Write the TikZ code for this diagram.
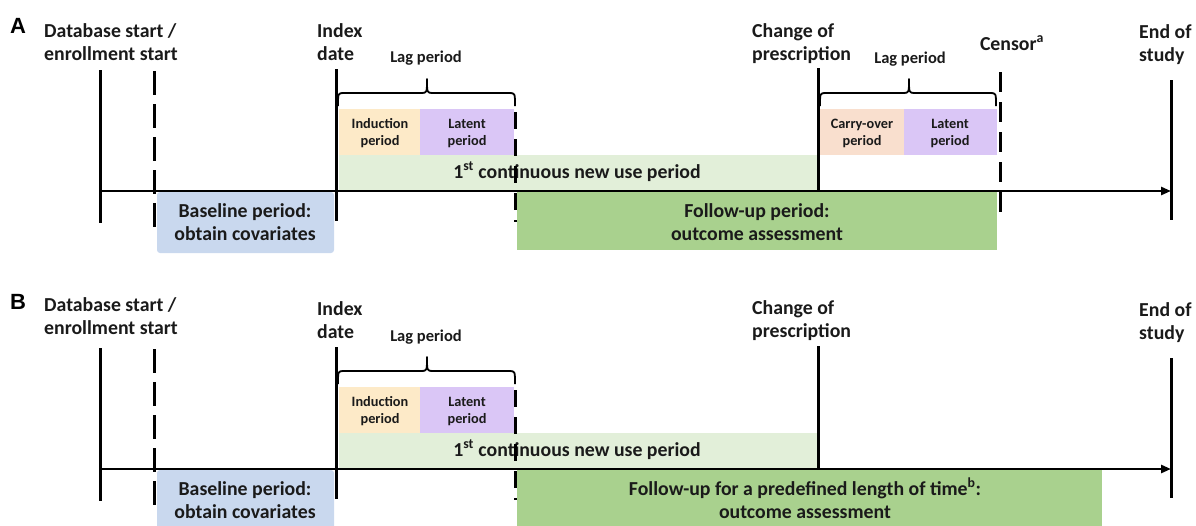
\documentclass[tikz,border=0pt]{standalone}
\usepackage{fontspec}
\setmainfont{Carlito}
\newfontfamily\panelfont{Liberation Sans}
\usetikzlibrary{arrows.meta}
\definecolor{txt}{HTML}{1A1A1A}
\definecolor{baseblue}{HTML}{C9D8EE}
\definecolor{fugreen}{HTML}{A9D18E}
\definecolor{usegreen}{HTML}{E2EFD9}
\definecolor{induc}{HTML}{FDEAC8}
\definecolor{carry}{HTML}{F9DFCE}
\definecolor{latentc}{HTML}{DAC6F6}
\newcommand\twolinel[2]{\begin{tabular}[t]{@{}l@{}}#1\\#2\end{tabular}}
\newcommand\twolinec[2]{\begin{tabular}[t]{@{}c@{}}#1\\#2\end{tabular}}
\newcommand\lagbrace[4]{%
  \draw[bracestyle] (#1,#4+13) .. controls (#1,#4) .. (#1+6,#4) -- (#2-6,#4)
    .. controls (#2,#4) .. (#2,#4-14) .. controls (#2,#4) .. (#2+6,#4) -- (#3-6,#4)
    .. controls (#3,#4) .. (#3,#4+13);}
\tikzset{
  big/.style={font=\fontsize{19.8}{23.5}\selectfont\bfseries, text=txt, inner sep=0pt},
  mid/.style={font=\fontsize{16.5}{18}\selectfont\bfseries, text=txt, inner sep=0pt},
  small/.style={font=\fontsize{14.3}{17}\selectfont\bfseries, text=txt, inner sep=0pt},
  panel/.style={font=\panelfont\bfseries\fontsize{22}{24}\selectfont, text=black, inner sep=0pt},
  tick/.style={line width=3pt, draw=black},
  dtick/.style={line width=3pt, draw=black, dash pattern=on 24pt off 9pt},
  axis/.style={line width=2.5pt, draw=black, -{Triangle[length=10pt,width=8pt]}},
  bracestyle/.style={line width=1.8pt, draw=black, line join=round},
}
\begin{document}
\begin{tikzpicture}[x=1pt,y=-1pt]
\useasboundingbox (0,0) rectangle (1196,525);
\clip (0,0) rectangle (1196,525);
% ================= Panel A =================
\fill[baseblue, rounded corners=3pt] (157,192) rectangle (334,253);
\fill[fugreen] (517,192) rectangle (997,250);
\fill[usegreen] (339,155) rectangle (818,190);
\fill[induc] (339,109) rectangle (420,155);
\fill[latentc] (420,109) rectangle (514,155);
\fill[carry] (820,109) rectangle (904,155);
\fill[latentc] (904,109) rectangle (997,155);

\node[panel, anchor=base west] (pA) at (10,33) {A};
\node[big, anchor=base west] (dbA) at (44,37) {\twolinel{Database start /}{enrollment start}};
\node[big, anchor=base west] (idxA) at (317,37) {\twolinel{Index}{date}};
\node[big, anchor=base west] (chgA) at (752,37) {\twolinel{Change of}{prescription}};
\node[big, anchor=base west] (endA) at (1139,38) {\twolinel{End of}{study}};
\node[big, anchor=base] (cenA) at (1012,50) {Censor\textsuperscript{a}};
\node[mid, anchor=base] (lag1A) at (426,62) {Lag period};
\node[mid, anchor=base] (lag2A) at (910,63) {Lag period};
\node[small, anchor=base] (indA) at (380,128) {\twolinec{Induction}{period}};
\node[small, anchor=base] (lat1A) at (467,128) {\twolinec{Latent}{period}};
\node[small, anchor=base] (carA) at (862,128) {\twolinec{Carry-over}{period}};
\node[small, anchor=base] (lat2A) at (950,128) {\twolinec{Latent}{period}};
\node[big, anchor=base] (useA) at (577,178) {1\textsuperscript{st} continuous new use period};
\node[big, anchor=base] (baseA) at (245,217) {\twolinec{Baseline period:}{obtain covariates}};
\node[big, anchor=base] (fuA) at (757,217) {\twolinec{Follow-up period:}{outcome assessment}};

\lagbrace{338}{427}{515}{93}
\lagbrace{820}{909}{996}{93}
\draw[axis] (100,191) -- (1171,191);
\draw[tick] (100,70) -- (100,223);
\draw[dtick] (154,71) -- (154,230);
\draw[tick] (336,69) -- (336,221);
\draw[dtick, dash pattern=on 17pt off 10pt] (515,112) -- (515,222);
\draw[tick] (818,68) -- (818,191);
\draw[dtick, dash pattern=on 20pt off 10pt] (1000,72) -- (1000,222);
\draw[tick] (1171,80) -- (1171,220);

% ================= Panel B =================
\fill[baseblue, rounded corners=3pt] (157,470) rectangle (334,531);
\fill[fugreen] (517,470) rectangle (1102,528);
\fill[usegreen] (339,433) rectangle (818,468);
\fill[induc] (339,387) rectangle (420,433);
\fill[latentc] (420,387) rectangle (514,433);

\node[panel, anchor=base west] (pB) at (10,309) {B};
\node[big, anchor=base west] (dbB) at (44,311) {\twolinel{Database start /}{enrollment start}};
\node[big, anchor=base west] (idxB) at (317,315) {\twolinel{Index}{date}};
\node[big, anchor=base west] (chgB) at (752,314) {\twolinel{Change of}{prescription}};
\node[big, anchor=base west] (endB) at (1139,316) {\twolinel{End of}{study}};
\node[mid, anchor=base] (lag1B) at (426,341) {Lag period};
\node[small, anchor=base] (indB) at (380,406) {\twolinec{Induction}{period}};
\node[small, anchor=base] (lat1B) at (467,406) {\twolinec{Latent}{period}};
\node[big, anchor=base] (useB) at (577,456) {1\textsuperscript{st} continuous new use period};
\node[big, anchor=base] (baseB) at (245,495) {\twolinec{Baseline period:}{obtain covariates}};
\node[big, anchor=base] (fuB) at (805,495) {\twolinec{Follow-up for a predefined length of time\textsuperscript{b}:}{outcome assessment}};

\lagbrace{338}{427}{515}{371}
\draw[axis] (100,469) -- (1171,469);
\draw[tick] (100,348) -- (100,501);
\draw[dtick] (154,349) -- (154,508);
\draw[tick] (336,347) -- (336,499);
\draw[dtick, dash pattern=on 17pt off 10pt] (515,390) -- (515,500);
\draw[tick] (818,346) -- (818,469);
\draw[tick] (1171,358) -- (1171,498);
\end{tikzpicture}
\end{document}
